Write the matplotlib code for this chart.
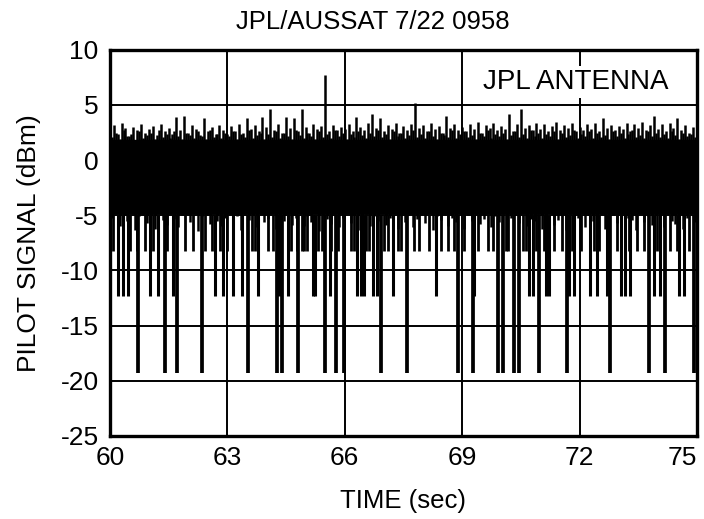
import numpy as np
import matplotlib
matplotlib.use("Agg")
import matplotlib.pyplot as plt

# pilot signal envelope, one sample pair every 0.1 s from 60.0 s (dBm)
T0 = 60.0
STEP = 0.1
upper = [
    2.6, 3.2, 2.4, 3.4, 2.9, 2.2, 3.0, 2.7, 3.3, 2.5,
    2.8, 3.1, 2.3, 3.3, 2.6, 2.9, 2.4, 3.9, 2.7, 4.0,
    2.5, 3.2, 2.8, 2.3, 3.8, 2.6, 3.0, 2.4, 3.2, 2.7,
    2.4, 3.1, 2.6, 3.3, 2.5, 3.8, 2.8, 3.2, 2.6, 3.9,
    3.0, 4.6, 2.7, 3.3, 2.5, 3.9, 2.9, 3.8, 2.6, 4.6,
    3.0, 2.5, 3.3, 2.8, 3.1, 7.7, 2.6, 3.2, 2.7, 3.0,
    2.8, 3.3, 2.6, 3.9, 3.0, 2.7, 3.4, 4.2, 2.9, 3.8,
    2.6, 3.2, 2.8, 3.4, 2.5, 3.1, 2.7, 3.3, 5.2, 2.9,
    3.2, 2.6, 3.4, 2.8, 3.1, 2.5, 4.0, 2.9, 3.3, 2.7,
    3.0, 2.6, 3.3, 2.8, 3.5, 2.5, 3.2, 2.9, 3.4, 2.7,
    3.1, 2.8, 4.2, 2.6, 3.3, 4.6, 2.9, 3.2, 2.7, 3.4,
    2.8, 3.3, 2.6, 3.1, 3.5, 2.7, 3.2, 2.9, 3.4, 2.6,
    3.0, 2.7, 3.3, 2.8, 3.4, 2.6, 3.8, 2.9, 3.2, 2.7,
    3.1, 2.8, 3.4, 2.6, 3.3, 2.9, 3.5, 2.7, 3.2, 4.0,
    2.8, 3.3, 2.6, 3.4, 2.9, 3.8, 2.7, 3.2, 2.5, 3.0,
]
# second, lower set of peaks half a step later
upper_b = [
    2.1, 2.5, 1.9, 2.7, 2.2, 2.4, 1.8, 2.6, 2.0, 2.3,
    2.5, 1.9, 2.7, 2.1, 2.4, 2.0, 2.6, 2.2, 1.9, 2.5,
    2.3, 2.0, 2.6, 2.2, 1.9, 2.7, 2.1, 2.4, 2.0, 2.5,
    2.2, 2.6, 1.9, 2.4, 2.1, 2.7, 2.0, 2.3, 2.5, 1.9,
    2.4, 2.1, 2.6, 2.0, 2.5, 2.2, 1.9, 2.7, 2.3, 2.0,
    2.5, 2.2, 1.9, 2.6, 2.1, 2.4, 2.0, 2.7, 2.2, 2.5,
    1.9, 2.4, 2.1, 2.6, 2.3, 2.0, 2.5, 2.2, 2.7, 2.1,
    2.4, 1.9, 2.6, 2.2, 2.5, 2.0, 2.3, 2.7, 2.1, 2.4,
    2.0, 2.6, 2.2, 1.9, 2.5, 2.3, 2.1, 2.7, 2.0, 2.4,
    2.6, 2.1, 2.3, 1.9, 2.5, 2.2, 2.7, 2.0, 2.4, 2.2,
    2.5, 1.9, 2.3, 2.6, 2.1, 2.4, 2.0, 2.7, 2.2, 2.5,
    2.0, 2.4, 2.2, 2.6, 1.9, 2.5, 2.1, 2.3, 2.7, 2.0,
    2.4, 2.2, 2.6, 2.0, 2.5, 2.1, 2.3, 1.9, 2.6, 2.2,
    2.5, 2.0, 2.4, 2.7, 2.1, 2.3, 2.0, 2.6, 2.2, 2.5,
    2.1, 2.4, 2.0, 2.6, 2.3, 1.9, 2.5, 2.2, 2.4, 2.1,
]
lower = [
    -5.2, -4.7, -6.0, -5.0, -5.5, -4.8, -6.3, -5.1, -4.9, -5.7,
    -5.0, -6.2, -4.8, -5.4, -5.9, -4.7, -5.3, -6.1, -5.0, -4.9,
    -5.6, -4.8, -6.4, -5.1, -5.0, -5.8, -4.7, -5.5, -6.0, -5.2,
    -4.9, -5.7, -5.1, -6.3, -4.8, -5.4, -5.0, -6.1, -4.9, -5.6,
    -5.3, -4.8, -6.2, -5.0, -5.5, -4.9, -5.9, -5.2, -4.7, -6.0,
    -5.1, -5.6, -4.8, -6.4, -5.0, -5.3, -5.8, -4.9, -6.1, -5.2,
    -4.8, -5.7, -5.0, -6.3, -5.4, -4.9, -6.0, -5.1, -5.5, -4.7,
    -5.9, -5.2, -4.8, -6.2, -5.0, -5.6, -4.9, -6.1, -5.3, -5.0,
    -5.7, -4.8, -6.3, -5.1, -5.4, -4.9, -6.0, -5.2, -5.6, -4.8,
    -6.2, -5.0, -5.5, -4.9, -5.8, -5.3, -4.7, -6.1, -5.1, -5.6,
    -4.9, -6.4, -5.2, -5.0, -5.7, -4.8, -6.0, -5.3, -5.5, -4.9,
    -6.2, -5.1, -4.8, -5.9, -5.4, -5.0, -6.3, -4.9, -5.6, -5.2,
    -4.8, -6.1, -5.0, -5.5, -5.8, -4.9, -6.2, -5.3, -5.0, -5.7,
    -4.9, -6.0, -5.2, -5.4, -6.3, -4.8, -5.6, -5.1, -5.9, -5.0,
    -5.3, -6.1, -4.9, -5.5, -5.8, -5.0, -6.2, -5.2, -4.8, -5.6,
]

# fades (sec) grouped by how deep they go
deep_fades = [60.72, 61.41, 61.72, 62.36, 63.54, 64.28, 64.41, 64.82, 65.51,
              65.77, 65.97, 66.92, 67.59, 68.90, 69.28, 69.92, 70.05, 70.33,
              70.46, 70.97, 71.67, 72.77, 73.77, 74.18, 74.92]
mid_fades = [60.21, 60.33, 60.46, 61.03, 61.23, 61.62, 62.69, 62.90, 63.15,
             63.38, 63.79, 64.31, 64.54, 65.18, 65.23, 65.62, 66.31, 66.41,
             66.49, 66.72, 66.82, 67.23, 68.33, 69.31, 70.72, 70.82, 71.15,
             71.23, 71.74, 71.87, 72.26, 72.44, 72.69, 73.05, 73.15, 73.28,
             73.90, 74.05, 74.54, 74.67]
shallow_fades = [60.08, 60.51, 60.69, 60.90, 61.10, 61.46, 61.92, 62.13,
                 62.44, 62.62, 62.82, 63.00, 63.64, 63.72, 64.05, 64.18,
                 64.62, 64.79, 64.92, 64.95, 65.05, 65.31, 65.41, 65.64,
                 65.82, 66.15, 66.23, 66.54, 66.62, 67.00, 67.10, 67.36,
                 67.44, 67.77, 67.90, 68.15, 68.46, 68.64, 68.79, 69.05,
                 69.41, 69.67, 69.79, 70.13, 70.18, 70.56, 70.64, 70.90,
                 71.08, 71.36, 71.54, 71.82, 72.03, 72.36, 72.51, 72.69,
                 72.95, 73.26, 73.46, 73.64, 73.97, 74.31, 74.49, 74.79]
DEEP = -19.3
MID = -12.3
SHALLOW = -8.2
BAND = -5.0

plt.rcParams['font.family'] = ['Liberation Sans', 'DejaVu Sans']
plt.rcParams['axes.unicode_minus'] = False

fig = plt.figure(figsize=(7.04, 5.19), dpi=100)
ax = fig.add_axes([0.156, 0.160, 0.834, 0.744])

t_up = T0 + STEP * np.arange(len(upper))
t_lo = t_up + STEP / 2

ax.fill_between(np.append(t_up, 75.0), -4.8, 1.8, color='black', zorder=3)
ax.vlines(t_up, 0, upper, color='black', linewidth=1.8, zorder=3)
ax.vlines(t_lo, 0, upper_b, color='black', linewidth=1.8, zorder=3)
ax.vlines(t_lo, lower, 0, color='black', linewidth=1.8, zorder=3)
ax.vlines(shallow_fades, SHALLOW, BAND, color='black', linewidth=2.0, zorder=3)
ax.vlines(mid_fades, MID, BAND, color='black', linewidth=2.2, zorder=3)
ax.vlines(deep_fades, DEEP, BAND, color='black', linewidth=2.7, zorder=3)

ax.set_xlim(60, 75)
ax.set_ylim(-25, 10)
ax.set_xticks(np.arange(60, 76, 3))
ax.set_yticks(np.arange(-25, 11, 5))
ax.grid(True, color='black', linewidth=1.4)
ax.set_axisbelow(True)
ax.tick_params(length=0, labelsize=19, pad=8)
ax.tick_params(axis='x', pad=7)
ax.get_xticklabels()[-1].set_horizontalalignment('right')
for sp in ax.spines.values():
    sp.set_linewidth(2.4)

ax.text(71.9, 7.1, 'JPL ANTENNA', fontsize=20, ha='center', va='center',
        bbox=dict(facecolor='white', edgecolor='none', pad=2), zorder=4)

fig.text(0.53, 0.958, 'JPL/AUSSAT 7/22 0958', fontsize=18.5,
         ha='center', va='center')
ax.set_xlabel('TIME (sec)', fontsize=18.5, labelpad=14)
ax.set_ylabel('PILOT SIGNAL (dBm)', fontsize=19, labelpad=14)

plt.savefig("out.png", dpi=100)
